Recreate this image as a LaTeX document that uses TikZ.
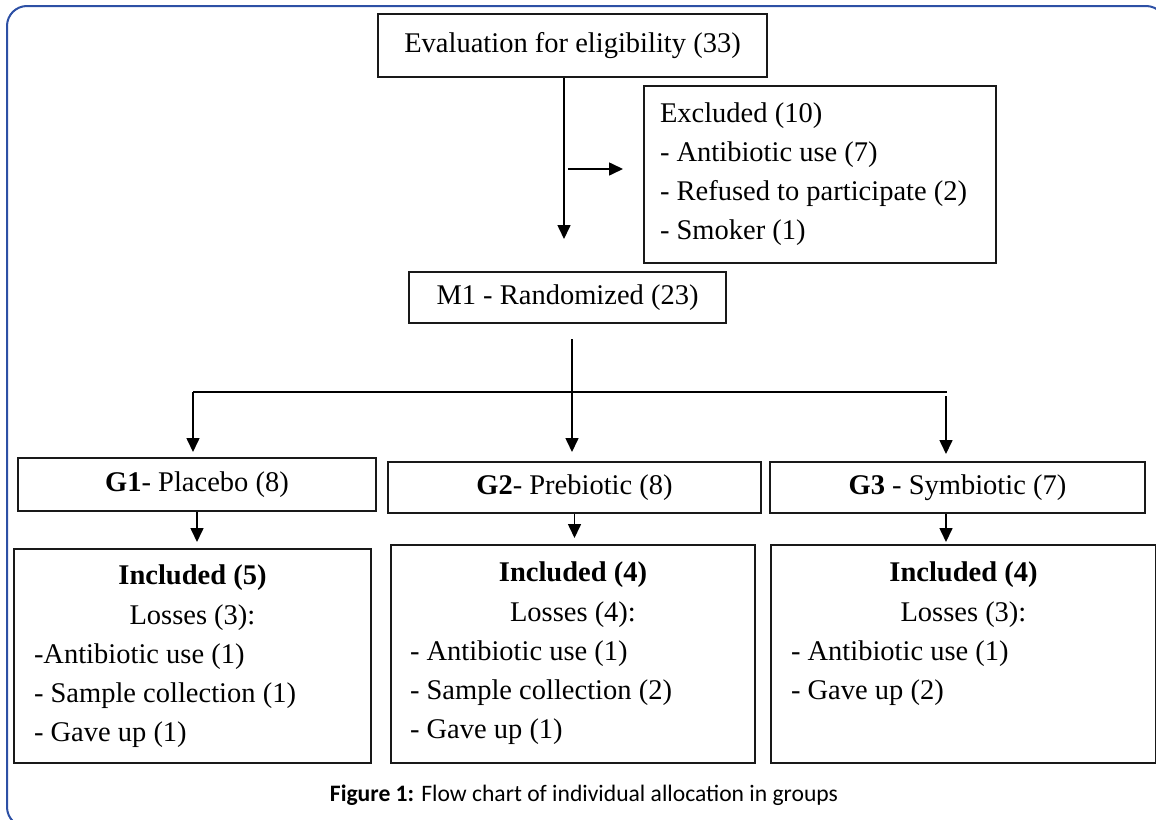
\documentclass[tikz,border=0pt]{standalone}
\usepackage{fontspec}
\setmainfont{Liberation Serif}
\newfontfamily\capfont{Carlito}
\usetikzlibrary{arrows.meta}

\definecolor{frameblue}{RGB}{45,80,165}

\begin{document}
\begin{tikzpicture}[x=1pt, y=-1pt, >={Triangle[length=14pt,width=13pt]}, line width=1.6pt]
	\tikzset{box/.style={draw=black!90, line width=2pt, inner sep=0pt, font=\fontsize{28.5}{39.3}\selectfont}}
	\useasboundingbox (0,0) rectangle (1156,819);
	\clip (0,0) rectangle (1156,819);
	\draw[frameblue, line width=2pt, rounded corners=20pt] (7,6) rectangle (1166,827);

	\node[box, minimum width=389pt, minimum height=63pt]  (eval) at (572.5,45.5)  {Evaluation for eligibility (33)};
	\node[box, minimum width=352pt, minimum height=177pt, text width=320pt, inner xsep=16pt, align=flush left,
	      font=\fontsize{28.5}{39}\selectfont]            (excl) at (820,174.5)   {Excluded (10)\\- Antibiotic use (7)\\- Refused to participate (2)\\- Smoker (1)};
	\node[box, minimum width=317pt, minimum height=51pt]  (m1)   at (567.5,297.5) {M1 - Randomized (23)};
	\node[box, minimum width=358pt, minimum height=53pt]  (g1)   at (197,484.5)   {\textbf{G1}- Placebo (8)};
	\node[box, minimum width=373pt, minimum height=51pt]  (g2)   at (574.5,487.5) {\textbf{G2}- Prebiotic (8)};
	\node[box, minimum width=375pt, minimum height=51pt]  (g3)   at (957.5,487.5) {\textbf{G3} - Symbiotic (7)};

	\node[box, anchor=north west] (inc1) at (13,548)  {\parbox[c][214pt][t]{357pt}{\vspace*{16pt}\centering
		\textbf{Included (5)}\\Losses (3):\par\raggedright\leftskip=20pt
		-Antibiotic use (1)\\- Sample collection (1)\\- Gave up (1)}};
	\node[box, anchor=north west] (inc2) at (390,544) {\parbox[c][218pt][t]{364pt}{\vspace*{17pt}\centering
		\textbf{Included (4)}\\Losses (4):\par\raggedright\leftskip=19pt
		- Antibiotic use (1)\\- Sample collection (2)\\- Gave up (1)}};
	\node[box, anchor=north west] (inc3) at (770,544) {\parbox[c][218pt][t]{385pt}{\vspace*{17pt}\centering
		\textbf{Included (4)}\\Losses (3):\par\raggedright\leftskip=20pt
		- Antibiotic use (1)\\- Gave up (2)}};

	\node[font=\capfont\fontsize{23.6}{28}\selectfont, anchor=base] (cap) at (584,801)
		{\textbf{Figure 1:} Flow chart of individual allocation in groups};

	% connectors
	\coordinate (drop)  at (564,239);
	\coordinate (side)  at (568,169);
	\coordinate (stem)  at (572,339);
	\coordinate (split) at (572,392);
	\coordinate (left)  at (193,392);
	\coordinate (right) at (946,392);

	\draw[->] (eval.south -| drop) -- (drop);
	\draw[->, shorten >=20pt] (side) -- (side -| excl.west);
	\draw[->, shorten >=9pt] (stem) -- (split) -- (split |- g2.north);
	\draw (left) -- ([xshift=1pt]right);
	\draw[->, shorten >=5pt] (left) -- (left |- g1.north);
	\draw[->, shorten >=7pt] ([yshift=-4pt]right) -- (right |- g3.north);
	\draw[->, shorten >=6pt] (g1.south) -- (g1.south |- inc1.north);
	\draw[->, shorten >=6pt] (g2.south) -- (g2.south |- inc2.north);
	\draw[->, shorten >=2pt] (g3.south -| right) -- (right |- inc3.north);
\end{tikzpicture}
\end{document}
